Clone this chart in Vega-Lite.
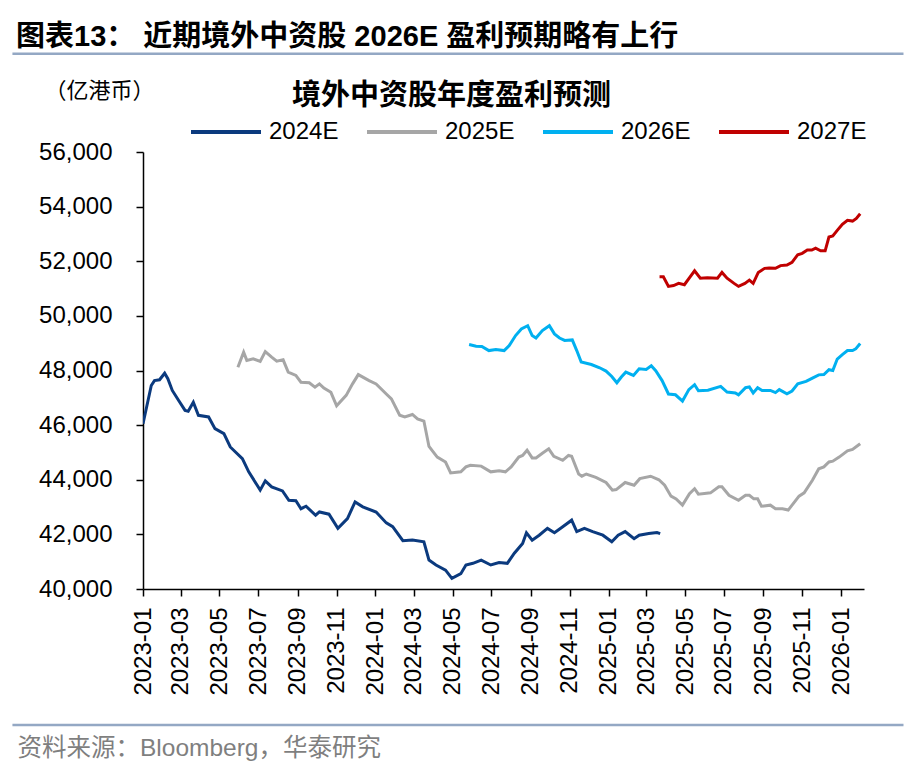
{
  "$schema": "https://vega.github.io/schema/vega-lite/v6.json",
  "description": "境外中资股年度盈利预测 2024E-2027E",
  "autosize": {"type": "none"},
  "width": 721,
  "height": 437,
  "padding": {"left": 143, "top": 152, "right": 40, "bottom": 193},
  "background": "white",
  "config": {
    "view": {"stroke": null},
    "axisY": {
      "values": [40000, 42000, 44000, 46000, 48000, 50000, 52000, 54000, 56000],
      "format": ",.0f",
      "labelFont": "Liberation Sans",
      "labelFontSize": 24,
      "labelColor": "black",
      "labelPadding": 24,
      "tickSize": 7,
      "tickColor": "black",
      "tickWidth": 1.5,
      "domainColor": "black",
      "domainWidth": 1.5,
      "grid": false,
      "titleAngle": 0,
      "titleX": -44,
      "titleY": -62,
      "titleAlign": "center",
      "titleBaseline": "middle",
      "titleFont": "Noto Sans CJK SC",
      "titleFontSize": 22,
      "titleFontWeight": "normal",
      "titleColor": "black"
    }
  },
  "title": {
    "text": "图表13：  近期境外中资股 2026E 盈利预期略有上行",
    "anchor": "start",
    "frame": "group",
    "dx": -127,
    "dy": 3,
    "font": "Liberation Sans, Noto Sans CJK SC",
    "fontSize": 29,
    "fontWeight": "bold",
    "color": "black",
    "offset": 4
  },
  "datasets": {
    "earnings": [
      {"d": "2023-01-01", "s": "2024E", "v": 46050},
      {"d": "2023-01-14", "s": "2024E", "v": 47450},
      {"d": "2023-01-19", "s": "2024E", "v": 47630},
      {"d": "2023-01-27", "s": "2024E", "v": 47660},
      {"d": "2023-02-04", "s": "2024E", "v": 47900},
      {"d": "2023-02-09", "s": "2024E", "v": 47700},
      {"d": "2023-02-16", "s": "2024E", "v": 47270},
      {"d": "2023-02-26", "s": "2024E", "v": 46900},
      {"d": "2023-03-08", "s": "2024E", "v": 46540},
      {"d": "2023-03-13", "s": "2024E", "v": 46510},
      {"d": "2023-03-21", "s": "2024E", "v": 46840},
      {"d": "2023-03-29", "s": "2024E", "v": 46360},
      {"d": "2023-04-14", "s": "2024E", "v": 46300},
      {"d": "2023-04-24", "s": "2024E", "v": 45870},
      {"d": "2023-05-08", "s": "2024E", "v": 45690},
      {"d": "2023-05-18", "s": "2024E", "v": 45200},
      {"d": "2023-06-06", "s": "2024E", "v": 44770},
      {"d": "2023-06-16", "s": "2024E", "v": 44290},
      {"d": "2023-07-04", "s": "2024E", "v": 43620},
      {"d": "2023-07-12", "s": "2024E", "v": 43960},
      {"d": "2023-07-22", "s": "2024E", "v": 43740},
      {"d": "2023-08-08", "s": "2024E", "v": 43590},
      {"d": "2023-08-18", "s": "2024E", "v": 43250},
      {"d": "2023-08-29", "s": "2024E", "v": 43230},
      {"d": "2023-09-06", "s": "2024E", "v": 42940},
      {"d": "2023-09-14", "s": "2024E", "v": 43030},
      {"d": "2023-09-29", "s": "2024E", "v": 42700},
      {"d": "2023-10-05", "s": "2024E", "v": 42820},
      {"d": "2023-10-20", "s": "2024E", "v": 42740},
      {"d": "2023-11-03", "s": "2024E", "v": 42220},
      {"d": "2023-11-18", "s": "2024E", "v": 42580},
      {"d": "2023-11-30", "s": "2024E", "v": 43190},
      {"d": "2023-12-12", "s": "2024E", "v": 43010},
      {"d": "2024-01-02", "s": "2024E", "v": 42820},
      {"d": "2024-01-18", "s": "2024E", "v": 42420},
      {"d": "2024-01-28", "s": "2024E", "v": 42280},
      {"d": "2024-02-13", "s": "2024E", "v": 41770},
      {"d": "2024-02-28", "s": "2024E", "v": 41790},
      {"d": "2024-03-17", "s": "2024E", "v": 41730},
      {"d": "2024-03-25", "s": "2024E", "v": 41060},
      {"d": "2024-04-05", "s": "2024E", "v": 40880},
      {"d": "2024-04-20", "s": "2024E", "v": 40690},
      {"d": "2024-04-30", "s": "2024E", "v": 40390},
      {"d": "2024-05-14", "s": "2024E", "v": 40560},
      {"d": "2024-05-22", "s": "2024E", "v": 40880},
      {"d": "2024-06-02", "s": "2024E", "v": 40940},
      {"d": "2024-06-15", "s": "2024E", "v": 41060},
      {"d": "2024-06-30", "s": "2024E", "v": 40880},
      {"d": "2024-07-13", "s": "2024E", "v": 40970},
      {"d": "2024-07-26", "s": "2024E", "v": 40940},
      {"d": "2024-08-06", "s": "2024E", "v": 41310},
      {"d": "2024-08-19", "s": "2024E", "v": 41670},
      {"d": "2024-08-25", "s": "2024E", "v": 42060},
      {"d": "2024-09-03", "s": "2024E", "v": 41790},
      {"d": "2024-09-14", "s": "2024E", "v": 41970},
      {"d": "2024-09-27", "s": "2024E", "v": 42220},
      {"d": "2024-10-08", "s": "2024E", "v": 42060},
      {"d": "2024-10-21", "s": "2024E", "v": 42280},
      {"d": "2024-11-04", "s": "2024E", "v": 42520},
      {"d": "2024-11-12", "s": "2024E", "v": 42100},
      {"d": "2024-11-24", "s": "2024E", "v": 42220},
      {"d": "2024-12-07", "s": "2024E", "v": 42100},
      {"d": "2024-12-23", "s": "2024E", "v": 41970},
      {"d": "2025-01-06", "s": "2024E", "v": 41730},
      {"d": "2025-01-16", "s": "2024E", "v": 41970},
      {"d": "2025-01-27", "s": "2024E", "v": 42100},
      {"d": "2025-02-10", "s": "2024E", "v": 41840},
      {"d": "2025-02-18", "s": "2024E", "v": 41970},
      {"d": "2025-03-05", "s": "2024E", "v": 42030},
      {"d": "2025-03-18", "s": "2024E", "v": 42070},
      {"d": "2025-03-23", "s": "2024E", "v": 42030},

      {"d": "2023-05-30", "s": "2025E", "v": 48120},
      {"d": "2023-06-08", "s": "2025E", "v": 48670},
      {"d": "2023-06-13", "s": "2025E", "v": 48370},
      {"d": "2023-06-23", "s": "2025E", "v": 48430},
      {"d": "2023-07-04", "s": "2025E", "v": 48330},
      {"d": "2023-07-12", "s": "2025E", "v": 48690},
      {"d": "2023-07-22", "s": "2025E", "v": 48490},
      {"d": "2023-07-30", "s": "2025E", "v": 48340},
      {"d": "2023-08-09", "s": "2025E", "v": 48390},
      {"d": "2023-08-17", "s": "2025E", "v": 47940},
      {"d": "2023-08-29", "s": "2025E", "v": 47820},
      {"d": "2023-09-06", "s": "2025E", "v": 47570},
      {"d": "2023-09-19", "s": "2025E", "v": 47550},
      {"d": "2023-09-28", "s": "2025E", "v": 47390},
      {"d": "2023-10-05", "s": "2025E", "v": 47510},
      {"d": "2023-10-12", "s": "2025E", "v": 47360},
      {"d": "2023-10-23", "s": "2025E", "v": 47200},
      {"d": "2023-11-01", "s": "2025E", "v": 46710},
      {"d": "2023-11-16", "s": "2025E", "v": 47090},
      {"d": "2023-11-26", "s": "2025E", "v": 47510},
      {"d": "2023-12-05", "s": "2025E", "v": 47850},
      {"d": "2023-12-22", "s": "2025E", "v": 47630},
      {"d": "2024-01-02", "s": "2025E", "v": 47510},
      {"d": "2024-01-18", "s": "2025E", "v": 47140},
      {"d": "2024-01-26", "s": "2025E", "v": 46960},
      {"d": "2024-02-08", "s": "2025E", "v": 46360},
      {"d": "2024-02-16", "s": "2025E", "v": 46300},
      {"d": "2024-02-28", "s": "2025E", "v": 46390},
      {"d": "2024-03-07", "s": "2025E", "v": 46230},
      {"d": "2024-03-17", "s": "2025E", "v": 46150},
      {"d": "2024-03-25", "s": "2025E", "v": 45220},
      {"d": "2024-04-07", "s": "2025E", "v": 44830},
      {"d": "2024-04-20", "s": "2025E", "v": 44650},
      {"d": "2024-04-28", "s": "2025E", "v": 44250},
      {"d": "2024-05-14", "s": "2025E", "v": 44290},
      {"d": "2024-05-22", "s": "2025E", "v": 44470},
      {"d": "2024-05-29", "s": "2025E", "v": 44530},
      {"d": "2024-06-15", "s": "2025E", "v": 44500},
      {"d": "2024-06-30", "s": "2025E", "v": 44290},
      {"d": "2024-07-13", "s": "2025E", "v": 44330},
      {"d": "2024-07-23", "s": "2025E", "v": 44290},
      {"d": "2024-08-01", "s": "2025E", "v": 44470},
      {"d": "2024-08-13", "s": "2025E", "v": 44830},
      {"d": "2024-08-19", "s": "2025E", "v": 44890},
      {"d": "2024-08-26", "s": "2025E", "v": 45080},
      {"d": "2024-09-03", "s": "2025E", "v": 44800},
      {"d": "2024-09-09", "s": "2025E", "v": 44800},
      {"d": "2024-09-19", "s": "2025E", "v": 44970},
      {"d": "2024-09-29", "s": "2025E", "v": 45130},
      {"d": "2024-10-07", "s": "2025E", "v": 44860},
      {"d": "2024-10-21", "s": "2025E", "v": 44710},
      {"d": "2024-10-30", "s": "2025E", "v": 44890},
      {"d": "2024-11-04", "s": "2025E", "v": 44860},
      {"d": "2024-11-15", "s": "2025E", "v": 44210},
      {"d": "2024-11-20", "s": "2025E", "v": 44130},
      {"d": "2024-11-27", "s": "2025E", "v": 44210},
      {"d": "2024-12-12", "s": "2025E", "v": 44090},
      {"d": "2024-12-28", "s": "2025E", "v": 43900},
      {"d": "2025-01-07", "s": "2025E", "v": 43620},
      {"d": "2025-01-13", "s": "2025E", "v": 43640},
      {"d": "2025-01-27", "s": "2025E", "v": 43900},
      {"d": "2025-02-10", "s": "2025E", "v": 43800},
      {"d": "2025-02-19", "s": "2025E", "v": 44040},
      {"d": "2025-03-08", "s": "2025E", "v": 44130},
      {"d": "2025-03-21", "s": "2025E", "v": 44000},
      {"d": "2025-03-30", "s": "2025E", "v": 43800},
      {"d": "2025-04-09", "s": "2025E", "v": 43400},
      {"d": "2025-04-17", "s": "2025E", "v": 43300},
      {"d": "2025-04-27", "s": "2025E", "v": 43070},
      {"d": "2025-05-08", "s": "2025E", "v": 43490},
      {"d": "2025-05-16", "s": "2025E", "v": 43670},
      {"d": "2025-05-22", "s": "2025E", "v": 43470},
      {"d": "2025-06-10", "s": "2025E", "v": 43520},
      {"d": "2025-06-23", "s": "2025E", "v": 43740},
      {"d": "2025-06-28", "s": "2025E", "v": 43740},
      {"d": "2025-07-09", "s": "2025E", "v": 43430},
      {"d": "2025-07-24", "s": "2025E", "v": 43250},
      {"d": "2025-08-04", "s": "2025E", "v": 43430},
      {"d": "2025-08-10", "s": "2025E", "v": 43430},
      {"d": "2025-08-17", "s": "2025E", "v": 43300},
      {"d": "2025-08-23", "s": "2025E", "v": 43300},
      {"d": "2025-08-29", "s": "2025E", "v": 43030},
      {"d": "2025-09-12", "s": "2025E", "v": 43070},
      {"d": "2025-09-20", "s": "2025E", "v": 42940},
      {"d": "2025-10-01", "s": "2025E", "v": 42940},
      {"d": "2025-10-10", "s": "2025E", "v": 42890},
      {"d": "2025-10-27", "s": "2025E", "v": 43400},
      {"d": "2025-11-04", "s": "2025E", "v": 43520},
      {"d": "2025-11-17", "s": "2025E", "v": 43980},
      {"d": "2025-11-27", "s": "2025E", "v": 44400},
      {"d": "2025-12-05", "s": "2025E", "v": 44470},
      {"d": "2025-12-13", "s": "2025E", "v": 44650},
      {"d": "2025-12-19", "s": "2025E", "v": 44680},
      {"d": "2025-12-29", "s": "2025E", "v": 44830},
      {"d": "2026-01-11", "s": "2025E", "v": 45060},
      {"d": "2026-01-19", "s": "2025E", "v": 45110},
      {"d": "2026-01-31", "s": "2025E", "v": 45320},

      {"d": "2024-05-27", "s": "2026E", "v": 48950},
      {"d": "2024-06-07", "s": "2026E", "v": 48890},
      {"d": "2024-06-16", "s": "2026E", "v": 48880},
      {"d": "2024-06-27", "s": "2026E", "v": 48730},
      {"d": "2024-07-08", "s": "2026E", "v": 48770},
      {"d": "2024-07-21", "s": "2026E", "v": 48730},
      {"d": "2024-07-29", "s": "2026E", "v": 48910},
      {"d": "2024-08-08", "s": "2026E", "v": 49280},
      {"d": "2024-08-17", "s": "2026E", "v": 49520},
      {"d": "2024-08-27", "s": "2026E", "v": 49640},
      {"d": "2024-09-03", "s": "2026E", "v": 49280},
      {"d": "2024-09-09", "s": "2026E", "v": 49190},
      {"d": "2024-09-19", "s": "2026E", "v": 49460},
      {"d": "2024-09-30", "s": "2026E", "v": 49640},
      {"d": "2024-10-08", "s": "2026E", "v": 49340},
      {"d": "2024-10-16", "s": "2026E", "v": 49190},
      {"d": "2024-10-24", "s": "2026E", "v": 49100},
      {"d": "2024-11-05", "s": "2026E", "v": 49120},
      {"d": "2024-11-12", "s": "2026E", "v": 48730},
      {"d": "2024-11-19", "s": "2026E", "v": 48310},
      {"d": "2024-12-05", "s": "2026E", "v": 48220},
      {"d": "2024-12-18", "s": "2026E", "v": 48100},
      {"d": "2024-12-28", "s": "2026E", "v": 47980},
      {"d": "2025-01-06", "s": "2026E", "v": 47780},
      {"d": "2025-01-14", "s": "2026E", "v": 47550},
      {"d": "2025-01-21", "s": "2026E", "v": 47760},
      {"d": "2025-01-28", "s": "2026E", "v": 47940},
      {"d": "2025-02-09", "s": "2026E", "v": 47820},
      {"d": "2025-02-18", "s": "2026E", "v": 48060},
      {"d": "2025-03-01", "s": "2026E", "v": 48040},
      {"d": "2025-03-09", "s": "2026E", "v": 48170},
      {"d": "2025-03-16", "s": "2026E", "v": 47990},
      {"d": "2025-03-26", "s": "2026E", "v": 47630},
      {"d": "2025-04-05", "s": "2026E", "v": 47140},
      {"d": "2025-04-16", "s": "2026E", "v": 47110},
      {"d": "2025-04-27", "s": "2026E", "v": 46880},
      {"d": "2025-05-07", "s": "2026E", "v": 47300},
      {"d": "2025-05-16", "s": "2026E", "v": 47480},
      {"d": "2025-05-22", "s": "2026E", "v": 47260},
      {"d": "2025-06-06", "s": "2026E", "v": 47280},
      {"d": "2025-06-26", "s": "2026E", "v": 47420},
      {"d": "2025-07-06", "s": "2026E", "v": 47210},
      {"d": "2025-07-19", "s": "2026E", "v": 47180},
      {"d": "2025-07-24", "s": "2026E", "v": 47110},
      {"d": "2025-08-04", "s": "2026E", "v": 47370},
      {"d": "2025-08-10", "s": "2026E", "v": 47400},
      {"d": "2025-08-16", "s": "2026E", "v": 47180},
      {"d": "2025-08-23", "s": "2026E", "v": 47370},
      {"d": "2025-08-30", "s": "2026E", "v": 47270},
      {"d": "2025-09-12", "s": "2026E", "v": 47270},
      {"d": "2025-09-20", "s": "2026E", "v": 47190},
      {"d": "2025-09-26", "s": "2026E", "v": 47300},
      {"d": "2025-10-08", "s": "2026E", "v": 47150},
      {"d": "2025-10-16", "s": "2026E", "v": 47250},
      {"d": "2025-10-25", "s": "2026E", "v": 47510},
      {"d": "2025-11-07", "s": "2026E", "v": 47600},
      {"d": "2025-11-17", "s": "2026E", "v": 47720},
      {"d": "2025-11-27", "s": "2026E", "v": 47840},
      {"d": "2025-12-05", "s": "2026E", "v": 47850},
      {"d": "2025-12-13", "s": "2026E", "v": 48030},
      {"d": "2025-12-19", "s": "2026E", "v": 48000},
      {"d": "2025-12-26", "s": "2026E", "v": 48420},
      {"d": "2026-01-03", "s": "2026E", "v": 48580},
      {"d": "2026-01-11", "s": "2026E", "v": 48730},
      {"d": "2026-01-19", "s": "2026E", "v": 48730},
      {"d": "2026-01-24", "s": "2026E", "v": 48790},
      {"d": "2026-01-31", "s": "2026E", "v": 48990},

      {"d": "2025-03-22", "s": "2027E", "v": 51430},
      {"d": "2025-03-28", "s": "2027E", "v": 51430},
      {"d": "2025-04-05", "s": "2027E", "v": 51080},
      {"d": "2025-04-13", "s": "2027E", "v": 51110},
      {"d": "2025-04-21", "s": "2027E", "v": 51190},
      {"d": "2025-04-30", "s": "2027E", "v": 51140},
      {"d": "2025-05-09", "s": "2027E", "v": 51430},
      {"d": "2025-05-16", "s": "2027E", "v": 51650},
      {"d": "2025-05-25", "s": "2027E", "v": 51380},
      {"d": "2025-06-05", "s": "2027E", "v": 51400},
      {"d": "2025-06-21", "s": "2027E", "v": 51380},
      {"d": "2025-06-28", "s": "2027E", "v": 51590},
      {"d": "2025-07-06", "s": "2027E", "v": 51380},
      {"d": "2025-07-17", "s": "2027E", "v": 51190},
      {"d": "2025-07-24", "s": "2027E", "v": 51080},
      {"d": "2025-08-03", "s": "2027E", "v": 51190},
      {"d": "2025-08-10", "s": "2027E", "v": 51310},
      {"d": "2025-08-16", "s": "2027E", "v": 51190},
      {"d": "2025-08-24", "s": "2027E", "v": 51590},
      {"d": "2025-09-03", "s": "2027E", "v": 51740},
      {"d": "2025-09-10", "s": "2027E", "v": 51750},
      {"d": "2025-09-20", "s": "2027E", "v": 51740},
      {"d": "2025-09-28", "s": "2027E", "v": 51840},
      {"d": "2025-10-08", "s": "2027E", "v": 51860},
      {"d": "2025-10-16", "s": "2027E", "v": 51960},
      {"d": "2025-10-25", "s": "2027E", "v": 52240},
      {"d": "2025-11-01", "s": "2027E", "v": 52290},
      {"d": "2025-11-09", "s": "2027E", "v": 52410},
      {"d": "2025-11-16", "s": "2027E", "v": 52410},
      {"d": "2025-11-22", "s": "2027E", "v": 52480},
      {"d": "2025-11-30", "s": "2027E", "v": 52380},
      {"d": "2025-12-07", "s": "2027E", "v": 52380},
      {"d": "2025-12-13", "s": "2027E", "v": 52890},
      {"d": "2025-12-19", "s": "2027E", "v": 52930},
      {"d": "2025-12-26", "s": "2027E", "v": 53130},
      {"d": "2026-01-03", "s": "2027E", "v": 53350},
      {"d": "2026-01-11", "s": "2027E", "v": 53500},
      {"d": "2026-01-19", "s": "2027E", "v": 53470},
      {"d": "2026-01-25", "s": "2027E", "v": 53570},
      {"d": "2026-01-31", "s": "2027E", "v": 53740}
    ],
    "frame": [{"part": "rule"}]
  },
  "resolve": {"axis": {"x": "independent"}},
  "layer": [
    {
      "data": {"name": "earnings"},
      "mark": {"type": "line", "strokeWidth": 3, "clip": true},
      "encoding": {
        "x": {
          "field": "d",
          "type": "temporal",
          "scale": {
            "type": "utc",
            "nice": false,
            "domain": [
              {"year": 2023, "month": 1, "date": 1, "utc": true},
              {"year": 2026, "month": 2, "date": 6, "utc": true}
            ]
          },
          "axis": {
            "orient": "bottom",
            "format": "%Y-%m",
            "tickCount": {"interval": "month", "step": 2},
            "labelAngle": 270,
            "labelOverlap": false,
            "labelFlush": false,
            "labelFont": "Liberation Sans",
            "labelFontSize": 24,
            "labelColor": "black",
            "labelPadding": 11,
            "tickSize": 7,
            "tickColor": "black",
            "tickWidth": 1.5,
            "domainColor": "black",
            "domainWidth": 1.5,
            "grid": false,
            "title": "资料来源：Bloomberg，华泰研究",
            "titleX": -126,
            "titleY": 159,
            "titleAlign": "left",
            "titleBaseline": "middle",
            "titleFont": "Liberation Sans, Noto Sans CJK SC",
            "titleFontSize": 24.5,
            "titleFontWeight": "normal",
            "titleColor": "#7F7F7F"
          }
        },
        "y": {
          "field": "v",
          "type": "quantitative",
          "scale": {"domain": [40000, 56000], "nice": false, "zero": false},
          "axis": {"title": "（亿港币）", "format": ",.0f"}
        },
        "color": {
          "field": "s",
          "type": "nominal",
          "scale": {
            "domain": ["2024E", "2025E", "2026E", "2027E"],
            "range": ["#0B3A7E", "#A6A6A6", "#00B0F0", "#C00000"]
          },
          "legend": {
            "orient": "none",
            "direction": "horizontal",
            "legendX": 46,
            "legendY": -57,
            "title": null,
            "symbolType": "stroke",
            "symbolSize": 4900,
            "symbolStrokeWidth": 4,
            "labelFont": "Liberation Sans",
            "labelFontSize": 24,
            "labelColor": "black",
            "labelOffset": 6,
            "columnPadding": 20
          }
        }
      }
    },
    {
      "data": {"name": "frame"},
      "mark": {"type": "rule", "color": "#94A8C4", "strokeWidth": 2.5},
      "encoding": {
        "x": {
          "datum": {"year": 2022, "month": 6, "date": 10, "utc": true},
          "type": "temporal",
          "axis": {
            "orient": "top",
            "labels": false,
            "ticks": false,
            "domain": false,
            "grid": false,
            "title": "境外中资股年度盈利预测",
            "titleX": 308,
            "titleY": -57,
            "titleAlign": "center",
            "titleBaseline": "middle",
            "titleFont": "Noto Sans CJK SC",
            "titleFontSize": 29,
            "titleFontWeight": "bold",
            "titleColor": "black"
          }
        },
        "x2": {"datum": {"year": 2026, "month": 4, "date": 9, "utc": true}},
        "y": {"datum": 59593, "type": "quantitative", "axis": {"title": "（亿港币）", "format": ",.0f"}}
      }
    },
    {
      "data": {"name": "frame"},
      "mark": {"type": "rule", "color": "#94A8C4", "strokeWidth": 2.5},
      "encoding": {
        "x": {
          "datum": {"year": 2022, "month": 6, "date": 10, "utc": true},
          "type": "temporal",
          "axis": null
        },
        "x2": {"datum": {"year": 2026, "month": 4, "date": 9, "utc": true}},
        "y": {"datum": 35024, "type": "quantitative", "axis": {"title": "（亿港币）", "format": ",.0f"}}
      }
    }
  ]
}
